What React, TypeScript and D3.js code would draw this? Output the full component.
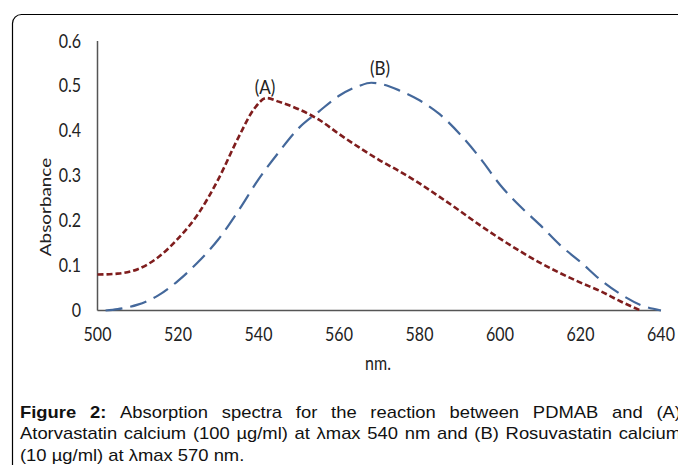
import { useEffect, useRef } from "react";
import * as d3 from "d3";

// curve (A): atorvastatin calcium
const nmA = [500, 505, 510, 515, 520, 525, 530, 535, 539, 542, 545, 550, 555, 560, 565, 570, 575, 580, 585, 590, 595, 600, 605, 610, 615, 620, 625, 630, 635];
const absA = [0.08, 0.082, 0.092, 0.118, 0.16, 0.215, 0.292, 0.385, 0.45, 0.473, 0.465, 0.448, 0.425, 0.393, 0.363, 0.335, 0.31, 0.283, 0.253, 0.222, 0.19, 0.16, 0.132, 0.106, 0.083, 0.062, 0.043, 0.02, 0.0];

// curve (B): rosuvastatin calcium
const nmB = [502, 505, 510, 515, 520, 525, 530, 535, 540, 545, 550, 555, 560, 565, 568, 571, 575, 580, 585, 590, 595, 600, 605, 610, 615, 620, 625, 630, 635, 640];
const absB = [0.0, 0.003, 0.013, 0.033, 0.066, 0.108, 0.158, 0.222, 0.292, 0.352, 0.406, 0.443, 0.478, 0.5, 0.507, 0.503, 0.49, 0.468, 0.437, 0.393, 0.34, 0.28, 0.232, 0.19, 0.145, 0.108, 0.068, 0.036, 0.012, 0.0];

const xTicks = [500, 520, 540, 560, 580, 600, 620, 640];
const yTicks = [0, 0.1, 0.2, 0.3, 0.4, 0.5, 0.6];
const yTickLabels = ["0", "0.1", "0.2", "0.3", "0.4", "0.5", "0.6"];

const captionLines = [
  { bold: ["Figure", "2:"], text: "Absorption spectra for the reaction between PDMAB and (A)", justify: true },
  { bold: [], text: "Atorvastatin calcium (100 µg/ml) at λmax 540 nm and (B) Rosuvastatin calcium", justify: true },
  { bold: [], text: "(10 µg/ml) at λmax 570 nm.", justify: false },
];

const chartFont = "Lato, 'Open Sans', sans-serif";
const captionFont = "'Liberation Sans', Arial, sans-serif";

// chart text in the picture is a little taller than wide
const Label = ({ x, y, anchor = "middle", size = 16, children }: any) => (
  <text
    transform={`translate(${x},${y}) scale(1,1.16)`}
    textAnchor={anchor}
    dy="0.35em"
    fontFamily={chartFont}
    fontSize={size}
    fill="#222"
  >
    {children}
  </text>
);

export default function App() {
  const captionRef = useRef<SVGGElement>(null);

  const x = d3.scaleLinear().domain([500, 640]).range([97.5, 661]);
  const y = d3.scaleLinear().domain([0, 0.6]).range([310.5, 41]);

  const line = d3
    .line<[number, number]>()
    .x((d) => x(d[0]))
    .y((d) => y(d[1]))
    .curve(d3.curveMonotoneX);

  const pathA = line(nmA.map((n, i) => [n, absA[i]]));
  const pathB = line(nmB.map((n, i) => [n, absB[i]]));

  useEffect(() => {
    if (!captionRef.current) return;
    const g = d3.select(captionRef.current);
    g.selectAll("*").remove();
    const scaleX = 1.15;
    const width = (681 - 20) / scaleX;

    captionLines.forEach((ln, i) => {
      const yPos = 418 + i * 21.5;
      const words = [
        ...ln.bold.map((w) => ({ w, bold: true })),
        ...ln.text.split(" ").map((w) => ({ w, bold: false })),
      ];
      const els = words.map((wd) =>
        g
          .append("text")
          .attr("y", yPos)
          .attr("font-weight", wd.bold ? "bold" : "normal")
          .text(wd.w)
      );
      const widths = els.map((e) => (e.node() as SVGTextElement).getComputedTextLength());
      const total = d3.sum(widths);
      const gap = ln.justify ? (width - total) / (els.length - 1) : 4.45;
      let cx = 0;
      els.forEach((e, j) => {
        e.attr("x", cx);
        cx += widths[j] + gap;
      });
    });
  }, []);

  return (
    <svg
      width={678}
      height={465}
      style={{ position: "absolute", left: 0, top: 0, background: "#fff" }}
    >
      <rect x={12.5} y={14.5} width={720} height={520} rx={9} fill="none" stroke="#000" strokeWidth={1.2} />

      {/* axes */}
      <line x1={x(500)} x2={x(500)} y1={y(0.6)} y2={y(0)} stroke="#555" strokeWidth={1.5} />
      <line x1={x(500)} x2={x(640)} y1={y(0)} y2={y(0)} stroke="#555" strokeWidth={1.5} />

      {yTicks.map((t, i) => (
        <Label key={t} x={81} y={y(t)} anchor="end">
          {yTickLabels[i]}
        </Label>
      ))}
      {xTicks.map((t) => (
        <Label key={t} x={x(t)} y={334}>
          {t}
        </Label>
      ))}

      <text
        transform="translate(45,207) rotate(-90) scale(1.18,1)"
        textAnchor="middle"
        dy="0.35em"
        fontFamily={chartFont}
        fontSize={16}
        fill="#222"
      >
        Absorbance
      </text>
      <Label x={378} y={363}>nm.</Label>

      <path d={pathA ?? ""} fill="none" stroke="#7f1d1d" strokeWidth={2.6} strokeDasharray="6,3" />
      <path d={pathB ?? ""} fill="none" stroke="#44689b" strokeWidth={2.2} strokeDasharray="17,8" />

      <Label x={265} y={87} size={17}>(A)</Label>
      <Label x={380} y={68} size={17}>(B)</Label>

      <g
        ref={captionRef}
        transform="translate(20,0) scale(1.15,1)"
        fontFamily={captionFont}
        fontSize={16}
        fill="#111"
      />
    </svg>
  );
}
